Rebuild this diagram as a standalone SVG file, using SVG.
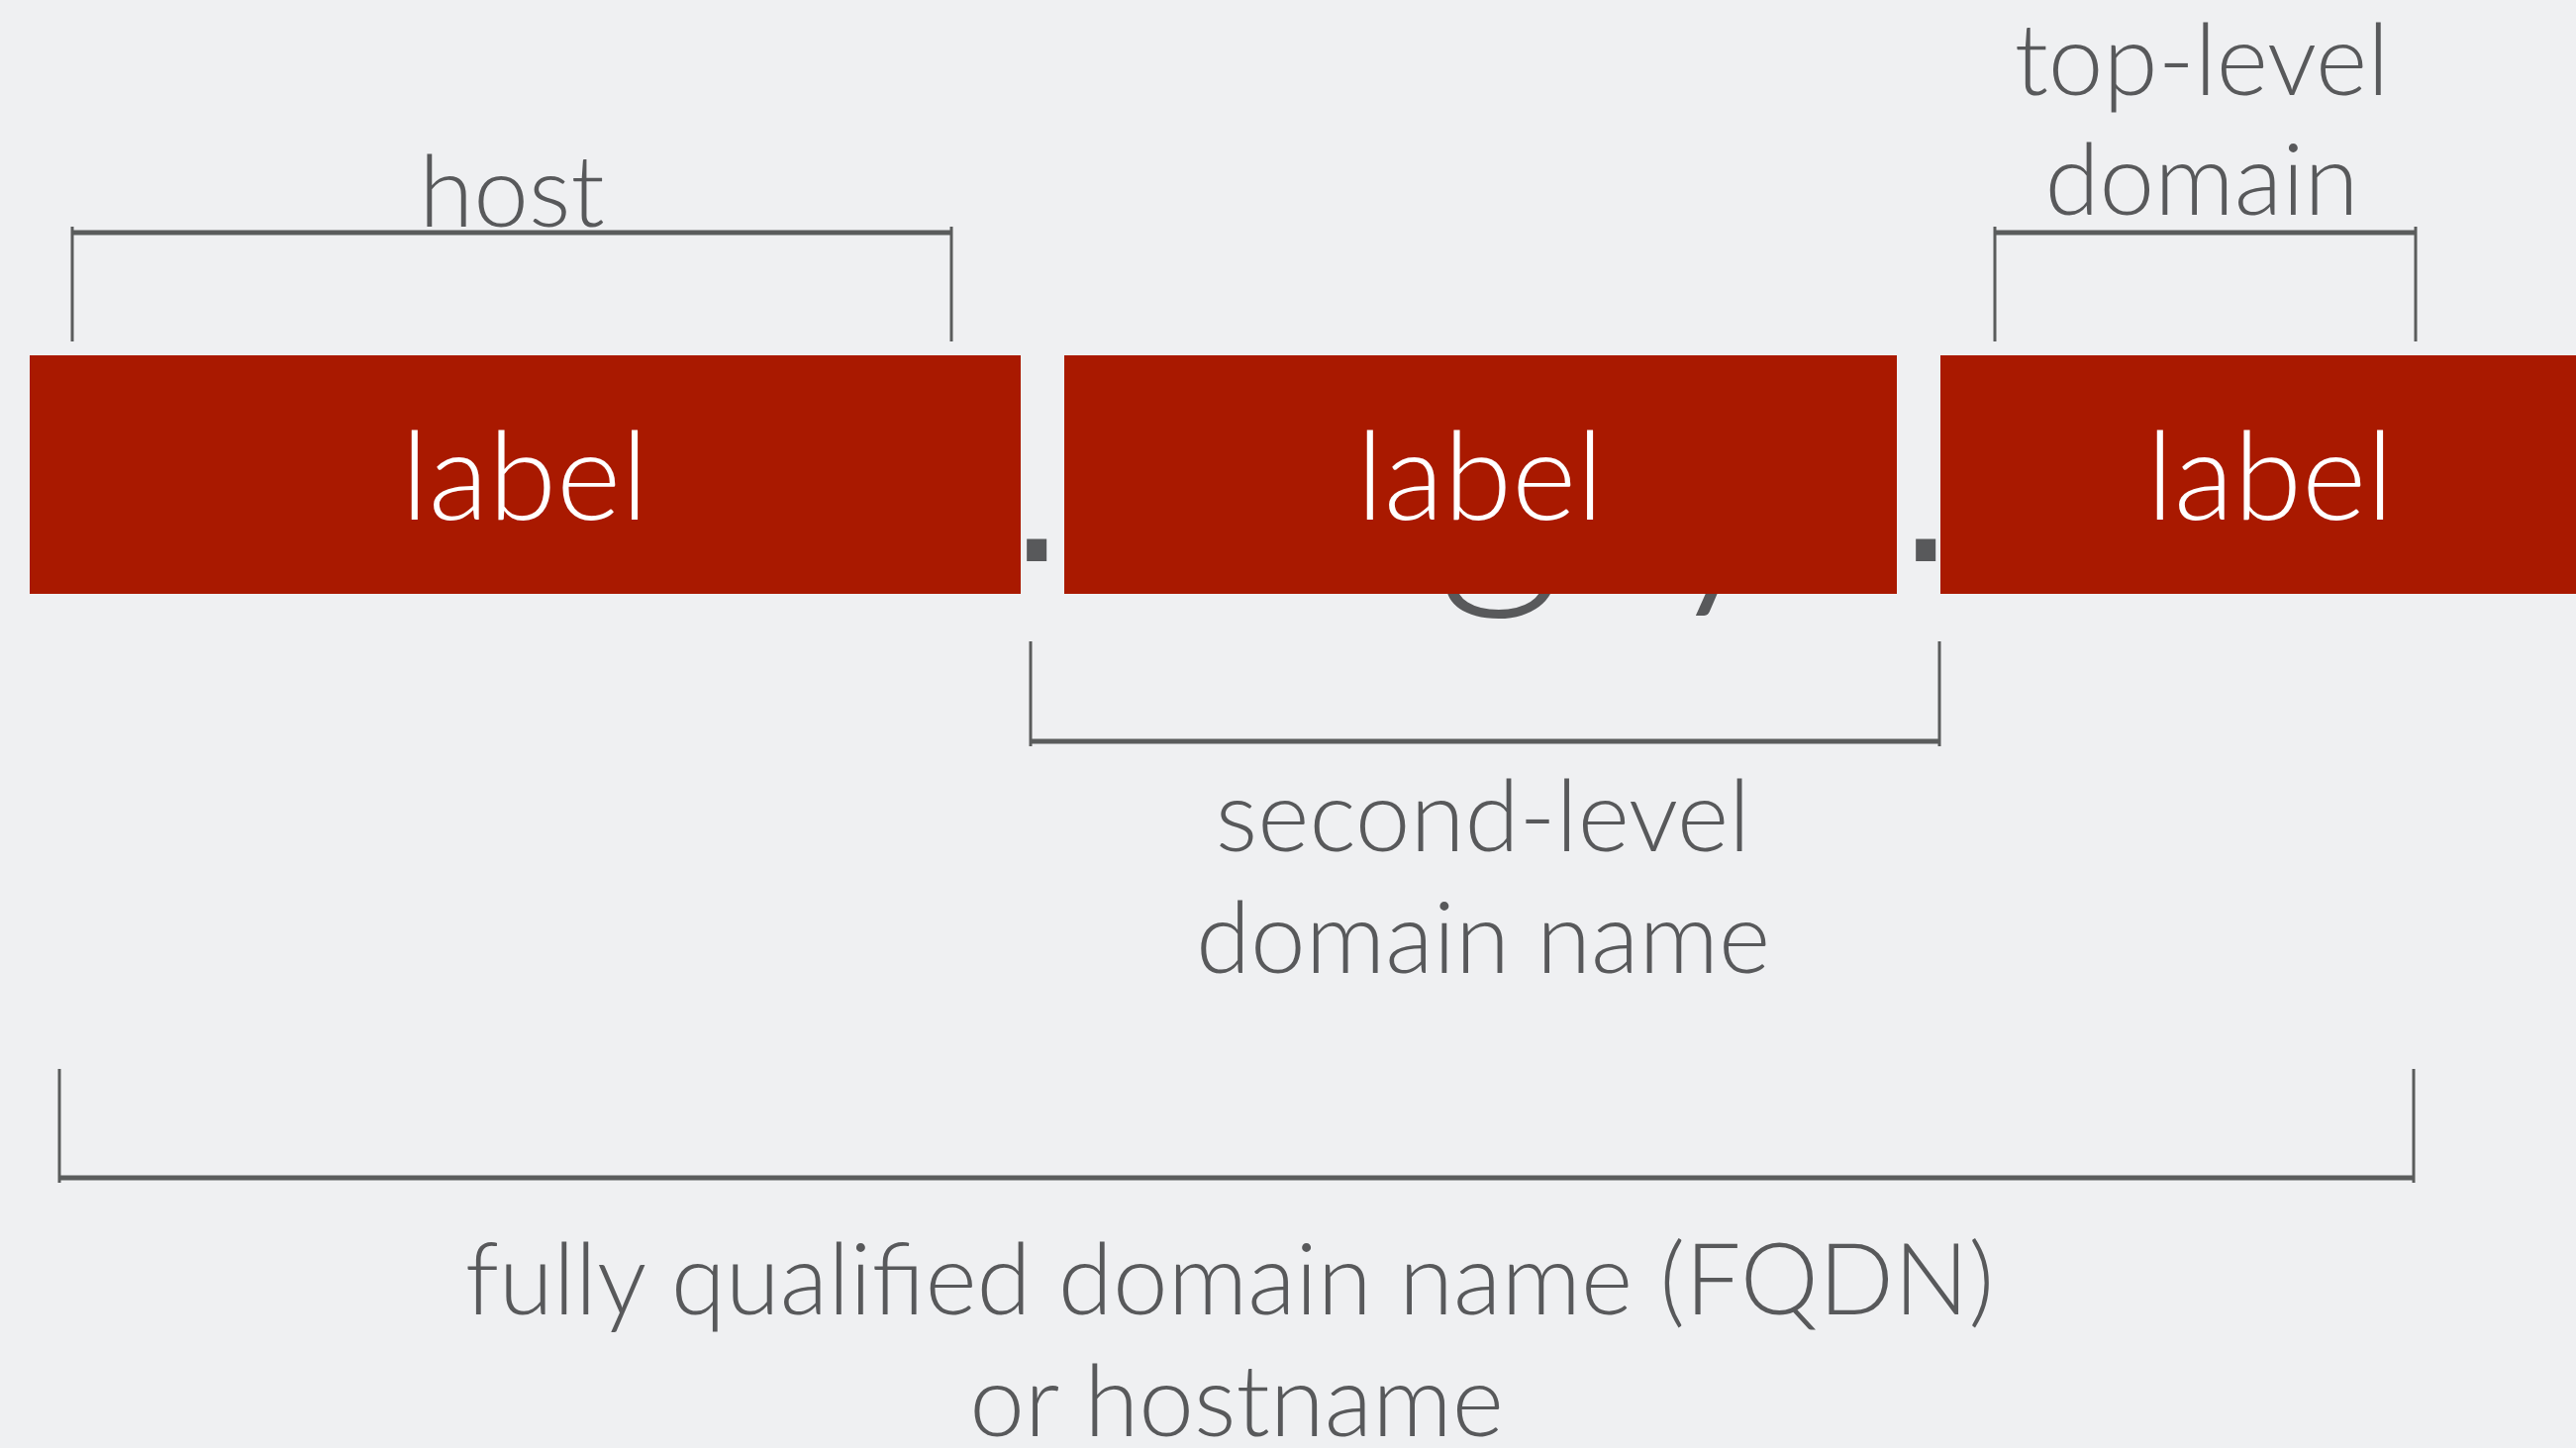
<svg xmlns="http://www.w3.org/2000/svg" width="2602" height="1463" viewBox="0 0 2602 1463">
<style>
.bg{fill:#eff0f2}
.box{fill:#a91900}
.lbl{font-family:"Lato","Open Sans",sans-serif;font-weight:300;font-size:125px;fill:#ffffff;text-anchor:middle}
.cap{font-family:"Lato","Open Sans",sans-serif;font-weight:300;font-size:100px;fill:#58595b;text-anchor:middle}
.big{font-family:"Lato","Open Sans",sans-serif;font-weight:300;font-size:250px;fill:#58595b}
.dot{font-family:"Liberation Sans",Arial,sans-serif;font-size:210px;fill:#58595b}
.h{stroke:#5a5c5c;stroke-width:5;fill:none}
.v{stroke:#5a5c5c;stroke-width:3;fill:none}
</style>
<rect class="bg" x="0" y="0" width="2602" height="1463"/>
<g id="hidden-name">
<text class="dot" x="1018" y="567">.</text>
<text class="big" x="1515" y="578" text-anchor="middle">g</text>
<text class="big" x="1740" y="578" text-anchor="middle">y</text>
<text class="dot" x="1916" y="567">.</text>
</g>
<g id="label-host">
<rect class="box" x="30" y="359" width="1001" height="241"/>
<text class="lbl" x="530" y="525">label</text>
</g>
<g id="label-sld">
<rect class="box" x="1075" y="359" width="841" height="241"/>
<text class="lbl" x="1495" y="525">label</text>
</g>
<g id="label-tld">
<rect class="box" x="1960" y="359" width="666" height="241"/>
<text class="lbl" x="2293" y="525">label</text>
</g>
<g id="connectors">
<line class="h" x1="73" y1="235" x2="961" y2="235"/>
<line class="v" x1="73" y1="229" x2="73" y2="345"/>
<line class="v" x1="961" y1="229" x2="961" y2="345"/>
<line class="h" x1="2015" y1="235" x2="2440" y2="235"/>
<line class="v" x1="2015" y1="229" x2="2015" y2="345"/>
<line class="v" x1="2440" y1="229" x2="2440" y2="345"/>
<line class="h" x1="1041" y1="749" x2="1959" y2="749"/>
<line class="v" x1="1041" y1="648" x2="1041" y2="754"/>
<line class="v" x1="1959" y1="648" x2="1959" y2="754"/>
<line class="h" x1="60" y1="1190" x2="2438" y2="1190"/>
<line class="v" x1="60" y1="1080" x2="60" y2="1195"/>
<line class="v" x1="2438" y1="1080" x2="2438" y2="1195"/>
</g>
<g id="caption-host"><text class="cap" x="517" y="229">host</text></g>
<g id="caption-tld"><text class="cap" x="2224" y="96">top-level</text><text class="cap" x="2224" y="217">domain</text></g>
<g id="caption-sld"><text class="cap" x="1498" y="860">second-level</text><text class="cap" x="1498" y="983">domain name</text></g>
<g id="caption-fqdn"><text class="cap" x="1242" y="1328">fully qualified domain name (FQDN)</text><text class="cap" x="1249" y="1451">or hostname</text></g>
</svg>
